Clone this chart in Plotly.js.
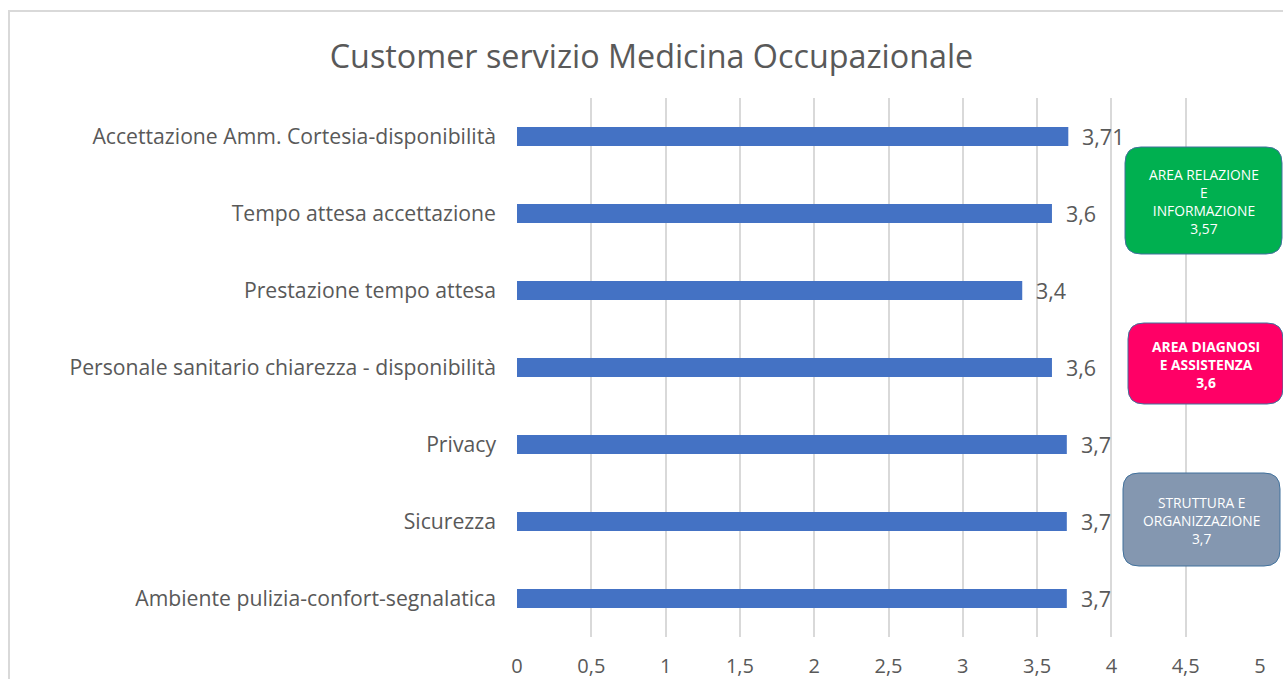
<!DOCTYPE html>
<html><head><meta charset="utf-8">
<script src="https://cdn.plot.ly/plotly-3.0.1.min.js"></script>
<style>
html,body{margin:0;padding:0;overflow:hidden;background:#fff;}
#frame{position:absolute;left:8px;top:10px;width:1300px;height:700px;border:2px solid #d9d9d9;box-sizing:border-box;}
#chart{position:absolute;left:0;top:0;width:1283px;height:679px;}
</style></head>
<body>
<div id="frame"></div>
<div id="chart"></div>
<script>
const categories = [
  "Accettazione Amm. Cortesia-disponibilità",
  "Tempo attesa accettazione",
  "Prestazione tempo attesa",
  "Personale sanitario chiarezza - disponibilità",
  "Privacy",
  "Sicurezza",
  "Ambiente pulizia-confort-segnalatica"
];
const values = [3.71, 3.6, 3.4, 3.6, 3.7, 3.7, 3.7];
const xTickVals = [0, 0.5, 1, 1.5, 2, 2.5, 3, 3.5, 4, 4.5, 5];
const areaLabels = ["AREA RELAZIONE<br>E<br>INFORMAZIONE", "AREA DIAGNOSI<br>E ASSISTENZA", "STRUTTURA E<br>ORGANIZZAZIONE"];
const areaValues = ["3,57", "3,6", "3,7"];
const areaColors = ["#00b050", "#ff0066", "#8497b0"];
const areaBold = [false, true, false];

const W = 1283, H = 679;
const M = {l:517, r:23, t:98, b:42};
const PW = W - M.l - M.r, PH = H - M.t - M.b;
function px2paperX(px){ return (px - M.l)/PW; }
function px2paperY(py){ return (H - M.b - py)/PH; }
function roundRect(x0,y0,x1,y1,r){
  const rx = r/PW, ry = r/PH;
  const X0=px2paperX(x0), X1=px2paperX(x1), Y0=px2paperY(y0), Y1=px2paperY(y1);
  return `M ${X0+rx},${Y0} L ${X1-rx},${Y0} Q ${X1},${Y0} ${X1},${Y0-ry} L ${X1},${Y1+ry} Q ${X1},${Y1} ${X1-rx},${Y1} L ${X0+rx},${Y1} Q ${X0},${Y1} ${X0},${Y1+ry} L ${X0},${Y0-ry} Q ${X0},${Y0} ${X0+rx},${Y0} Z`;
}
const boxes = [[1125,147,1282,254],[1128,323,1283,404],[1123,473,1280,566]];

const shapes = boxes.map((b,i)=>({type:'path', xref:'paper', yref:'paper', path: roundRect(b[0],b[1],b[2],b[3],16),
  fillcolor: areaColors[i], line:{color:'#41719c', width:1}, layer:'above'}));

const annotations = [];
values.forEach((v,i)=>{
  annotations.push({x:v, y:categories[i], xref:'x', yref:'y', text: v.toString().replace('.',','),
    showarrow:false, xanchor:'left', yanchor:'middle', xshift:12,
    font:{family:'Open Sans, sans-serif', size:21.5, color:'#595959'}});
});
boxes.forEach((b,i)=>{
  const t = areaLabels[i] + '<br>' + areaValues[i];
  annotations.push({x:px2paperX((b[0]+b[2])/2), y:px2paperY((b[1]+b[3])/2 + 1), xref:'paper', yref:'paper',
    text: areaBold[i] ? '<b>'+t+'</b>' : t, showarrow:false, xanchor:'center', yanchor:'middle',
    font:{family:'Open Sans, sans-serif', size:13.8, color:'#ffffff'}});
});

const trace = {type:'bar', orientation:'h', x: values, y: categories,
  marker:{color:'#4472c4'}, hoverinfo:'x+y'};

const layout = {
  width:W, height:H, margin:M, paper_bgcolor:'rgba(0,0,0,0)', plot_bgcolor:'rgba(0,0,0,0)',
  separators: ',.',
  bargap: 0.753,
  showlegend:false,
  title:{text:'Customer servizio Medicina Occupazionale', xref:'container', x:651.5/W, xanchor:'center',
    yref:'container', y:1-57/H, yanchor:'middle', font:{family:'Open Sans, sans-serif', size:32.3, color:'#595959'}},
  xaxis:{range:[0,5], tickvals:xTickVals, showgrid:true, gridcolor:'#d9d9d9', gridwidth:1.8,
    zeroline:false, showline:false, ticks:'', ticklabelstandoff:15,
    tickfont:{family:'Open Sans, sans-serif', size:20, color:'#595959'}, fixedrange:true},
  yaxis:{type:'category', autorange:'reversed', showgrid:false, zeroline:false, showline:false, ticks:'',
    ticklabelstandoff:20, tickfont:{family:'Open Sans, sans-serif', size:21.2, color:'#595959'}, fixedrange:true},
  shapes: shapes, annotations: annotations
};
Plotly.newPlot('chart', [trace], layout, {displayModeBar:false, staticPlot:false});
</script>
</body></html>
